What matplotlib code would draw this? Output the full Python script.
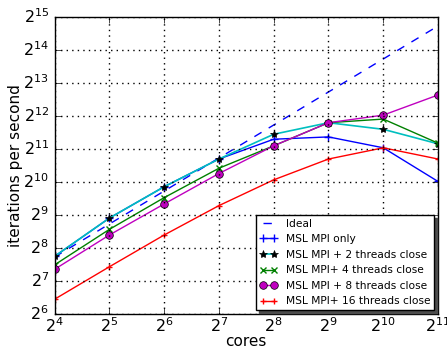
import numpy as np
import matplotlib
matplotlib.use("Agg")
import matplotlib.pyplot as plt
from matplotlib.ticker import LogLocator, LogFormatterSciNotation, NullLocator

cores = [16, 32, 64, 128, 256, 512, 1024, 2048]

ideal = [211, 422, 843, 1687, 3373, 6747, 13493, 26987]
mpi_only = [214, 478, 923, 1652, 2503, 2628, 2091, 1031]
mpi_2 = [214, 478, 923, 1652, 2778, 3541, 3083, 2273]
mpi_4 = [179, 377, 734, 1361, 2180, 3541, 3822, 2304]
mpi_8 = [163, 335, 643, 1218, 2180, 3541, 4153, 6338]
mpi_16 = [87, 172, 335, 621, 1067, 1652, 2091, 1652]

plt.style.use("classic")
plt.rcParams["font.family"] = ["DejaVu Sans"]

fig = plt.figure(figsize=(4.47, 3.48), dpi=100)
ax = fig.add_axes([0.122, 0.098, 0.858, 0.854])

ax.plot(cores, ideal, "b--", lw=1, label="Ideal")
ax.plot(cores, mpi_only, "b-", marker="+", ms=6, mew=1, lw=1, label="MSL MPI only")
ax.plot(cores, mpi_2, "c-", marker="*", ms=6, mfc="k", mec="k", mew=0.5, lw=1.2,
        label="MSL MPI + 2 threads close")
ax.plot(cores, mpi_4, "g-", marker="x", ms=5, mew=1, lw=1, label="MSL MPI+ 4 threads close")
ax.plot(cores, mpi_8, "m-", marker="o", ms=5.5, mec="k", mew=0.5, lw=1,
        label="MSL MPI + 8 threads close")
ax.plot(cores, mpi_16, "r-", marker="+", ms=5, mew=1, lw=1, label="MSL MPI+ 16 threads close")

ax.set_xscale("log", base=2)
ax.set_yscale("log", base=2)
ax.set_xlim(2**4, 2**11)
ax.set_ylim(2**6, 2**15)
ax.xaxis.set_major_locator(LogLocator(base=2, numticks=20))
ax.yaxis.set_major_locator(LogLocator(base=2, numticks=20))
ax.xaxis.set_major_formatter(LogFormatterSciNotation(base=2))
ax.yaxis.set_major_formatter(LogFormatterSciNotation(base=2))
ax.xaxis.set_minor_locator(NullLocator())
ax.yaxis.set_minor_locator(NullLocator())
ax.tick_params(axis="x", labelsize=11.5, pad=2)
ax.tick_params(axis="y", labelsize=11.5, pad=4)
ax.grid(True, which="major", color="k", linestyle=":", lw=1)

ax.set_xlabel("cores", fontsize=11, labelpad=-1)
ax.set_ylabel("iterations per second", fontsize=11, labelpad=0)

leg = ax.legend(loc="lower right", fontsize=7.7, numpoints=2,
                shadow={"color": "0.3", "alpha": 1},
                handlelength=1.6, handletextpad=0.85, borderaxespad=0.35,
                labelspacing=0.52, borderpad=0.35, fancybox=False, framealpha=1)
leg.get_frame().set_facecolor("white")
leg.get_frame().set_linewidth(1)

fig.savefig("out.png", dpi=100)
